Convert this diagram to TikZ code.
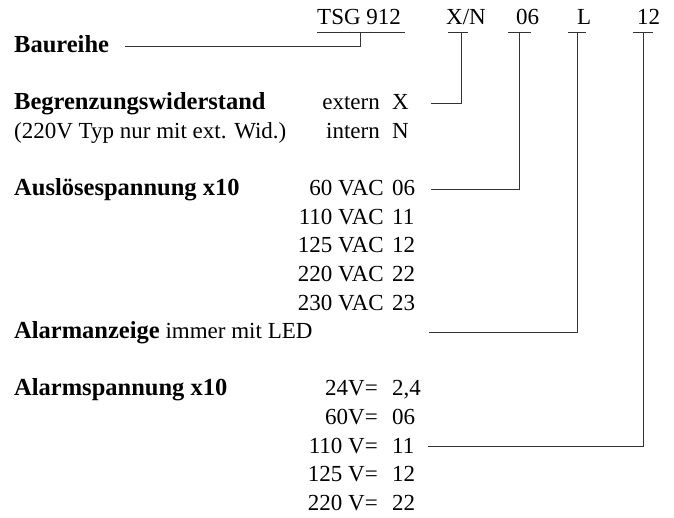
\documentclass[tikz,border=0pt]{standalone}
\usepackage{fontspec}
\setmainfont{Liberation Serif}
\begin{document}
\begin{tikzpicture}[x=1pt,y=-1pt,
  txt/.style={inner sep=0pt, font=\fontsize{23}{23}\selectfont},
  lbl/.style={inner sep=0pt, font=\fontsize{24.5}{24.5}\selectfont\bfseries, anchor=base west},
  note/.style={txt, anchor=base west},
  colA/.style={txt, anchor=base east},
  colB/.style={txt, anchor=base west},
  codetxt/.style={txt, anchor=base west},
  conn/.style={line width=1pt, draw=black!80}]
\useasboundingbox (0,0) rectangle (674,517);

% code header
\node[codetxt] (tsg) at (317,24) {TSG 912};
\node[codetxt] (xn)  at (446,24) {X/N};
\node[codetxt] (c06) at (516,24) {06};
\node[codetxt] (cL)  at (577,24) {L};
\node[codetxt] (c12) at (637,24) {12};

% underline coordinates
\coordinate (uT1) at (317,32); \coordinate (uT2) at (405,32); \coordinate (uTm) at (360,32);
\coordinate (uX1) at (448,32); \coordinate (uX2) at (468,32); \coordinate (uXm) at (461,32);
\coordinate (u61) at (508,32); \coordinate (u62) at (531,32); \coordinate (u6m) at (519,32);
\coordinate (uL1) at (568,32); \coordinate (uL2) at (586,32); \coordinate (uLm) at (577,32);
\coordinate (uZ1) at (633,32); \coordinate (uZ2) at (653,32); \coordinate (uZm) at (643,32);
\draw[conn] (uT1) -- (uT2);
\draw[conn] (uX1) -- (uX2);
\draw[conn] (u61) -- (u62);
\draw[conn] (uL1) -- (uL2);
\draw[conn] (uZ1) -- (uZ2);

% labels
\node[lbl] (bau) at (14,52.6) {Baureihe};
\node[lbl] (beg) at (14,109.8) {Begrenzungswiderstand};
\node[note] (typ) at (14,138.4) {(220V Typ nur mit ext. Wid.)};
\node[lbl] (aus) at (14,195.6) {Auslösespannung x10};
\node[note] (ala) at (14,338.6) {{\fontsize{24.5}{24.5}\selectfont\bfseries Alarmanzeige} immer mit LED};
\node[lbl] (asp) at (14,395.8) {Alarmspannung x10};

% option columns
\node[colA] (ext)  at (380,109.8) {extern};   \node[colB] (extv) at (392,109.8) {X};
\node[colA] (int)  at (380,138.4) {intern};   \node[colB] (intv) at (392,138.4) {N};
\node[colA] (v60)  at (384,195.6) {60 VAC};   \node[colB] (v60v) at (392,195.6) {06};
\node[colA] (v110) at (384,224.2) {110 VAC};  \node[colB] (v110v) at (392,224.2) {11};
\node[colA] (v125) at (384,252.8) {125 VAC};  \node[colB] (v125v) at (392,252.8) {12};
\node[colA] (v220) at (384,281.4) {220 VAC};  \node[colB] (v220v) at (392,281.4) {22};
\node[colA] (v230) at (384,310.0) {230 VAC};  \node[colB] (v230v) at (392,310.0) {23};
\node[colA] (d24)  at (378,395.8) {24V=};     \node[colB] (d24v) at (392,395.8) {2,4};
\node[colA] (d60)  at (378,424.4) {60V=};     \node[colB] (d60v) at (392,424.4) {06};
\node[colA] (d110) at (378,453.0) {110 V=};   \node[colB] (d110v) at (392,453.0) {11};
\node[colA] (d125) at (378,481.6) {125 V=};   \node[colB] (d125v) at (392,481.6) {12};
\node[colA] (d220) at (378,510.2) {220 V=};   \node[colB] (d220v) at (392,510.2) {22};

% connector free ends
\coordinate (bauE) at (125,46.5);
\coordinate (extE) at (431,103.5);
\coordinate (vacE) at (431,189.5);
\coordinate (ledE) at (429,332.5);
\coordinate (alE)  at (428,446.5);

\draw[conn] (uTm) |- (bauE);
\draw[conn] (uXm) |- (extE);
\draw[conn] (u6m) |- (vacE);
\draw[conn] (uLm) |- (ledE);
\draw[conn] (uZm) |- (alE);
\end{tikzpicture}
\end{document}
